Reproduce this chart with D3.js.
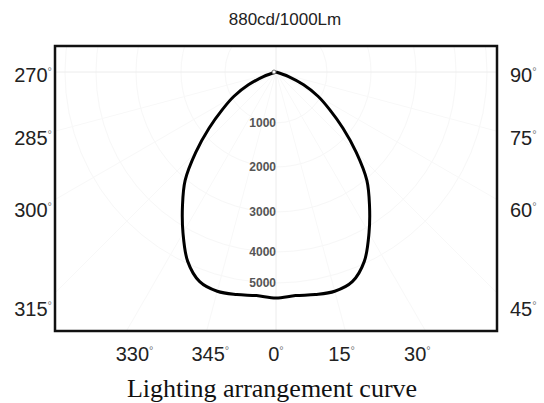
<!DOCTYPE html>
<html>
<head>
<meta charset="utf-8">
<script src="https://cdn.jsdelivr.net/npm/d3@7"></script>
<style>
  body { margin: 0; background: #fff; }
</style>
</head>
<body>
<div id="chart"></div>
<script>
// luminous intensity (cd/klm), half curve, angle from nadir
var angles = [0, 5, 10, 15, 20, 25, 30, 35, 40, 45, 50, 55, 60, 65, 70, 75];
var intensity = [876, 870, 876, 880, 865, 810, 721, 632, 548, 440, 339, 254, 188, 118, 52, 0];

var ringValues = [1000, 2000, 3000, 4000, 5000];
var angleLabels = [270, 285, 300, 315, 330, 345, 0, 15, 30, 45, 60, 75, 90];

var title = "880cd/1000Lm";
var caption = "Lighting arrangement curve";

var width = 544, height = 403;
var box = {left: 55, top: 46, right: 497, bottom: 331};
var origin = {x: 276, y: 72};

var svg = d3.select("#chart")
  .append("svg")
    .attr("width", width)
    .attr("height", height);

svg.append("rect")
  .attr("width", width)
  .attr("height", height)
  .attr("fill", "#fff");

// radius scale for the curve
var rScale = d3.scaleLinear()
  .domain([0, 880])
  .range([0, 227]);

// the printed rings are not evenly spaced in the original
var ringScale = d3.scaleLinear()
  .domain([0, 1000, 2000, 3000, 4000, 5000])
  .range([0, 51, 95, 140, 180, 211]);

function toRad(a) {
  // signed angle from nadir, left side negative
  var s = a > 180 ? a - 360 : a;
  return s * Math.PI / 180;
}

svg.append("clipPath")
  .attr("id", "clip")
  .append("rect")
    .attr("x", box.left)
    .attr("y", box.top)
    .attr("width", box.right - box.left)
    .attr("height", box.bottom - box.top);

var grid = svg.append("g").attr("clip-path", "url(#clip)");

grid.selectAll(".ring")
  .data(ringValues)
  .enter()
  .append("circle")
    .attr("cx", origin.x)
    .attr("cy", origin.y)
    .attr("r", function(d) { return ringScale(d); })
    .attr("fill", "none")
    .attr("stroke", "#f7f7f7")
    .attr("stroke-width", 1);

grid.selectAll(".spoke")
  .data(angleLabels)
  .enter()
  .append("line")
    .attr("x1", origin.x)
    .attr("y1", origin.y)
    .attr("x2", function(d) { return origin.x + 600 * Math.sin(toRad(d)); })
    .attr("y2", function(d) { return origin.y + 600 * Math.cos(toRad(d)); })
    .attr("stroke", function(d) { return (d === 0 || d === 90 || d === 270) ? "#ececec" : "#f8f8f8"; })
    .attr("stroke-width", 1);

// also the line going up from origin
grid.append("line")
  .attr("x1", origin.x).attr("y1", origin.y)
  .attr("x2", origin.x).attr("y2", box.top)
  .attr("stroke", "#ececec");

// ring labels
svg.selectAll(".ring-label")
  .data(ringValues)
  .enter()
  .append("text")
    .attr("x", origin.x)
    .attr("y", function(d) { return origin.y + ringScale(d) + 4; })
    .attr("text-anchor", "end")
    .style("font-family", "Liberation Sans, Arial, sans-serif")
    .style("font-size", "12px")
    .style("font-weight", "bold")
    .attr("fill", "#555")
    .text(function(d) { return d; });

// build full curve, mirrored
var half = angles.map(function(a, i) { return {a: a, v: intensity[i]}; });
var pts = [];
half.slice().reverse().forEach(function(d) { pts.push({a: -d.a, v: d.v}); });
half.slice(1).forEach(function(d) { pts.push(d); });

var line = d3.lineRadial()
  .angle(function(d) { return Math.PI - d.a * Math.PI / 180; })
  .radius(function(d) { return rScale(d.v); })
  .curve(d3.curveCatmullRom.alpha(0.5));

svg.append("path")
  .datum(pts)
  .attr("transform", "translate(" + origin.x + "," + origin.y + ")")
  .attr("d", line)
  .attr("fill", "none")
  .attr("stroke", "#000")
  .attr("stroke-width", 3)
  .attr("stroke-linejoin", "round");

// origin marker
svg.append("circle")
  .attr("cx", origin.x - 2)
  .attr("cy", origin.y)
  .attr("r", 2)
  .attr("fill", "#fff")
  .attr("stroke", "#555")
  .attr("stroke-width", 0.8);

// frame
svg.append("rect")
  .attr("x", box.left)
  .attr("y", box.top)
  .attr("width", box.right - box.left)
  .attr("height", box.bottom - box.top)
  .attr("fill", "none")
  .attr("stroke", "#111")
  .attr("stroke-width", 2.5);

// angle labels sit where each ray meets a label frame around the origin
var sideDist = 234, bottomDist = 245;
var lbl = svg.selectAll(".angle-label")
  .data(angleLabels)
  .enter()
  .append("text")
    .style("font-family", "Liberation Sans, Arial, sans-serif")
    .style("font-size", "20px")
    .attr("fill", "#222")
    .each(function(d) {
      var t = toRad(d);
      var el = d3.select(this);
      if (Math.abs(t) < Math.PI / 4 - 1e-6) {
        el.attr("x", origin.x + bottomDist * Math.tan(t))
          .attr("y", 361)
          .attr("text-anchor", "middle");
      } else if (t < 0) {
        el.attr("x", 52)
          .attr("y", origin.y + sideDist * Math.abs(Math.cos(t) / Math.sin(t)) + 10)
          .attr("text-anchor", "end");
      } else {
        el.attr("x", 510)
          .attr("y", origin.y + sideDist * Math.abs(Math.cos(t) / Math.sin(t)) + 10)
          .attr("text-anchor", "start");
      }
    });

lbl.append("tspan").text(function(d) { return d; });
lbl.append("tspan")
  .attr("dy", -7)
  .style("font-size", "11px")
  .attr("fill", "#777")
  .text("°");

// title
svg.append("text")
  .attr("x", 285)
  .attr("y", 25)
  .attr("text-anchor", "middle")
  .style("font-family", "Liberation Sans, Arial, sans-serif")
  .style("font-size", "17px")
  .attr("fill", "#222")
  .text(title);

// caption
svg.append("text")
  .attr("x", 272)
  .attr("y", 397)
  .attr("text-anchor", "middle")
  .style("font-family", "Liberation Serif, Times New Roman, serif")
  .style("font-size", "26px")
  .attr("fill", "#111")
  .text(caption);
</script>
</body>
</html>
